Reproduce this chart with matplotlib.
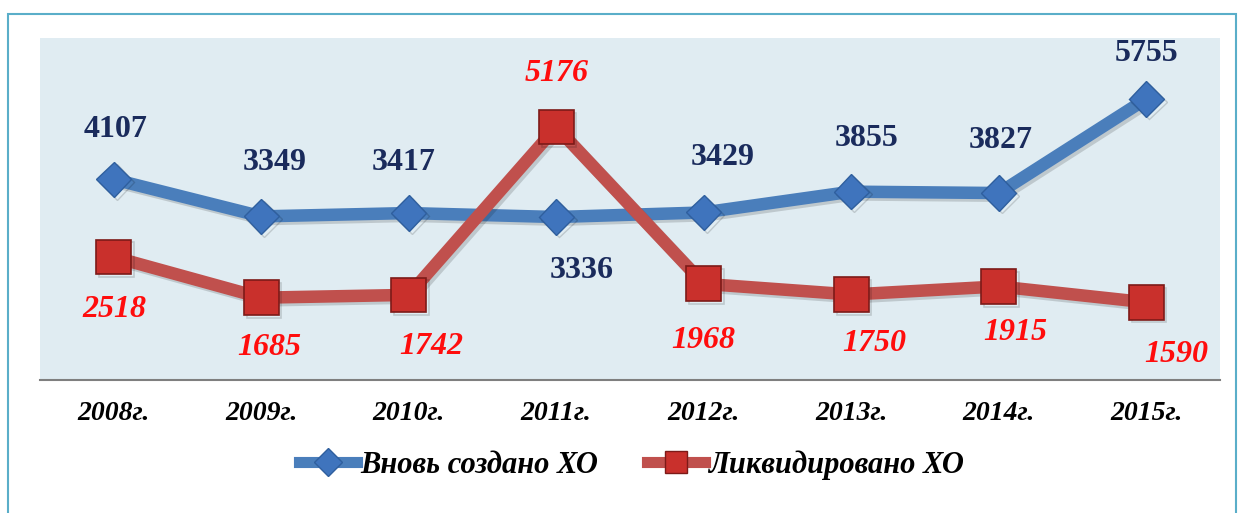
import matplotlib.pyplot as plt
import matplotlib.patheffects as pe
from matplotlib.patches import Rectangle
from matplotlib.lines import Line2D

# данные
years = ['2008г.', '2009г.', '2010г.', '2011г.', '2012г.', '2013г.', '2014г.', '2015г.']
created = [4107, 3349, 3417, 3336, 3429, 3855, 3827, 5755]
liquidated = [2518, 1685, 1742, 5176, 1968, 1750, 1915, 1590]
created_name = 'Вновь создано ХО'
liquidated_name = 'Ликвидировано ХО'

# сдвиг подписей в пикселях (dx, dy)
created_off = [(2, 50), (13, 54), (-5, 51), (25, -53), (19, 55), (15, 53), (2, 53), (0, 45)]
liquidated_off = [(1, -53), (8, -50), (22, -52), (0, 54), (0, -57), (23, -49), (17, -46), (30, -52)]

serif = 'Liberation Serif'
blue_line = '#4a7ebb'
blue_mark = '#3f74bd'
red_line = '#c0504d'
red_mark = '#c9302c'

fig = plt.figure(figsize=(12.38, 5.13), dpi=100)
fig.patch.set_facecolor('white')
fig.patches.append(Rectangle((8 / 1238, -0.05), 1228 / 1238, 1.05 - 14 / 513,
                             transform=fig.transFigure, fill=False,
                             edgecolor='#5aaec9', linewidth=1.5))

ax = fig.add_axes([40 / 1238, 1 - 380 / 513, 1180 / 1238, 342 / 513])
ax.set_facecolor('#e0ecf2')
x = range(len(years))

sombra = [pe.SimpleLineShadow(offset=(2, -2), alpha=0.15), pe.Normal()]
ax.plot(x, created, color=blue_line, lw=9, marker='D', ms=18,
        mfc=blue_mark, mec='#2f5f9e', mew=1, zorder=3,
        solid_joinstyle='round', path_effects=sombra)
ax.plot(x, liquidated, color=red_line, lw=9, marker='s', ms=25,
        mfc=red_mark, mec='#7d1a18', mew=1.2, zorder=3,
        solid_joinstyle='round', path_effects=sombra)

for i in x:
    ax.annotate(str(created[i]), (i, created[i]), xytext=created_off[i],
                textcoords='offset pixels', ha='center', va='center',
                fontsize=23, fontweight='bold', family=serif, color='#1a2b5c')
    ax.annotate(str(liquidated[i]), (i, liquidated[i]), xytext=liquidated_off[i],
                textcoords='offset pixels', ha='center', va='center',
                fontsize=23, fontweight='bold', fontstyle='italic',
                family=serif, color='#ff0d0d')

ax.set_xlim(-0.5, len(years) - 0.5)
ax.set_ylim(0, 7000)
ax.set_xticks(list(x))
ax.set_xticklabels(years, fontsize=20, fontweight='bold', fontstyle='italic', family=serif)
ax.set_yticks([])
ax.tick_params(axis='x', length=0, pad=15)
for s in ['top', 'left', 'right']:
    ax.spines[s].set_visible(False)
ax.spines['bottom'].set_color('#7f7f7f')
ax.spines['bottom'].set_linewidth(1.5)

handles = [
    Line2D([], [], color=blue_line, lw=8, marker='D', ms=14, mfc=blue_mark, mec='#2f5f9e'),
    Line2D([], [], color=red_line, lw=8, marker='s', ms=16, mfc=red_mark, mec='#7d1a18'),
]
fig.legend(handles, [created_name, liquidated_name], loc='center',
           bbox_to_anchor=(0.51, 1 - 465 / 513), ncol=2, frameon=False,
           handlelength=1.9, handletextpad=0.1, columnspacing=1.6,
           prop={'family': serif, 'size': 22, 'style': 'italic', 'weight': 'bold'})

fig.savefig('out.png', dpi=100)
